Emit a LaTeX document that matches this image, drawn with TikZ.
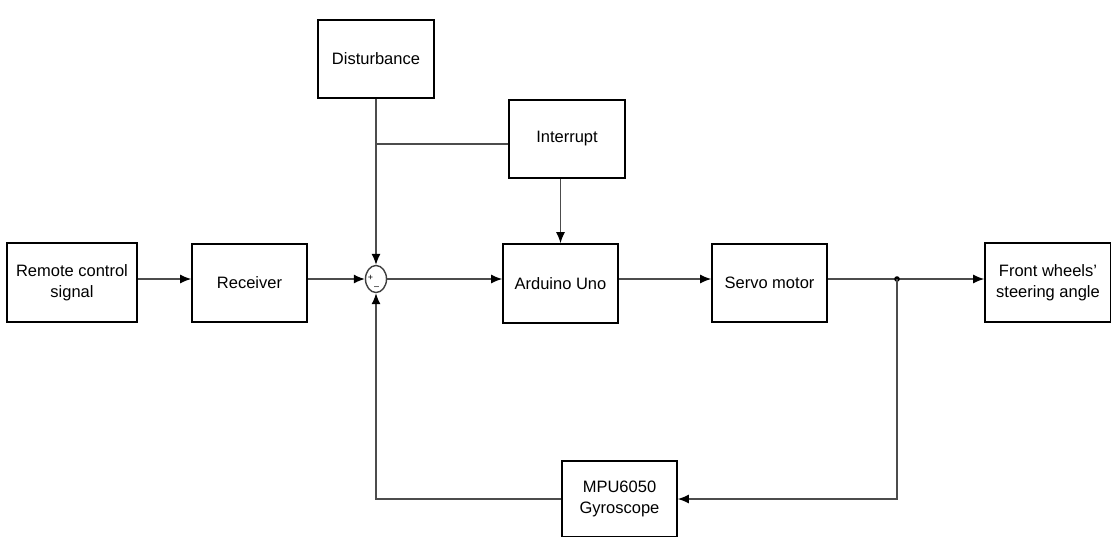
\documentclass[tikz,border=0pt]{standalone}
\usepackage{fontspec}
\setmainfont{Liberation Sans}
\usetikzlibrary{arrows.meta,shapes.geometric}
\begin{document}
\begin{tikzpicture}[x=1pt,y=-1pt,
  blk/.style={draw=black,line width=1.7pt,fill=white,align=center,inner sep=2pt,
    font=\fontsize{16.5}{21}\selectfont},
  conn/.style={draw=black!70,line width=1.2pt},
  arr/.style={conn,-{Latex[length=11pt,width=9pt,color=black]}}]
\useasboundingbox (0,0) rectangle (1111,536);
\node[blk,minimum width=130pt,minimum height=79pt] (remote) at (72,282.5) {Remote control\\signal};
\node[blk,minimum width=115pt,minimum height=78pt] (receiver) at (249.5,283) {Receiver};
\node[blk,minimum width=115pt,minimum height=79pt] (arduino) at (560.5,283.5) {Arduino Uno};
\node[blk,minimum width=115pt,minimum height=78pt] (servo) at (769.5,283) {Servo motor};
\node[blk,minimum width=126pt,minimum height=79pt] (front) at (1048,282.5) {Front wheels'\\steering angle};
\node[blk,minimum width=116pt,minimum height=78pt] (dist) at (376,59) {Disturbance};
\node[blk,minimum width=116pt,minimum height=78pt] (intr) at (567,139) {Interrupt};
\node[blk,minimum width=115pt,minimum height=76pt] (mpu) at (619.5,499) {MPU6050\\Gyroscope};
\node[draw=black!75,line width=1.4pt,ellipse,minimum width=21pt,minimum height=27pt,inner sep=0pt] (sum) at (376,279) {};
\node[font=\fontsize{9}{9}\selectfont,inner sep=0pt] (plus) at (370.5,278) {+};
\node[font=\fontsize{9}{9}\selectfont,inner sep=0pt] (minus) at (376.5,288.5) {--};
\coordinate (j) at (376,144);
\coordinate (br) at (897,279);
\coordinate (fbr) at (897,499);
\coordinate (fbl) at (376,499);
% main path
\draw[arr] (remote.east |- sum.center) -- (receiver.west |- sum.center);
\draw[arr] (receiver.east |- sum.center) -- (sum.west);
\draw[arr] (sum.east) -- (arduino.west |- sum.center);
\draw[arr] (arduino.east |- sum.center) -- (servo.west |- sum.center);
\draw[arr] (servo.east |- sum.center) -- (front.west |- sum.center);
\fill (br) circle (2.8pt);
% feedback
\draw[arr] (br) -- (fbr) -- (mpu.east);
\draw[arr] (mpu.west) -- (fbl) -- (sum.south);
% disturbance and interrupt
\draw[arr] (dist.south) -- (sum.north);
\draw[conn] (intr.west |- j) -- (j);
\draw[arr] (intr.south -| arduino.north) -- (arduino.north);
\end{tikzpicture}
\end{document}
